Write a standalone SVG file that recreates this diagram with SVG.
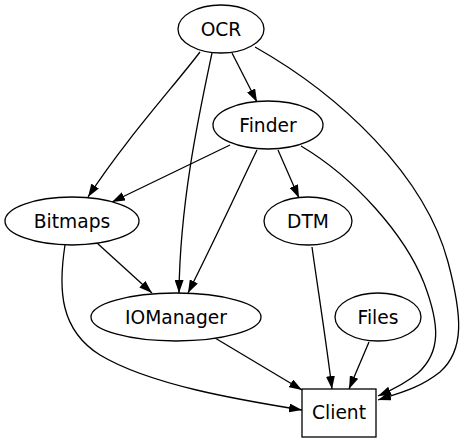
<svg xmlns="http://www.w3.org/2000/svg" width="465" height="443" viewBox="0 0 465 443">
<style>
.n ellipse, .n rect { fill: #fff; stroke: #000; stroke-width: 1.3; }
.n text { font-family: "DejaVu Sans", sans-serif; font-size: 18.67px; text-anchor: middle; fill: #000; }
.e path { fill: none; stroke: #000; stroke-width: 1.3; marker-end: url(#ah); }
</style>
<defs>
<marker id="ah" viewBox="0 0 13 9" refX="13" refY="4.5" markerWidth="13" markerHeight="9" markerUnits="userSpaceOnUse" orient="auto">
<path d="M0,0 L13,4.5 L0,9 z" fill="#000" stroke="none"/>
</marker>
</defs>
<rect width="465" height="443" fill="#fff"/>
<g id="edges" class="e">
<path d="M200,52 C175,85 125,140 88,197"/>
<path d="M212,53 C200,110 180,200 179,293"/>
<path d="M232,53 L257,102"/>
<path d="M255,47 C340,95 425,175 448,262 C462,315 465,350 440,372 C420,388 400,393 378,400"/>
<path d="M230,145 L112,202"/>
<path d="M257,150 C240,185 222,225 188,293"/>
<path d="M278,150 L299,198"/>
<path d="M301,146 C355,178 405,235 424,283 C440,325 441,352 418,373 C405,384 392,390 378,396"/>
<path d="M97,243 L152,293"/>
<path d="M65,245 C58,290 60,330 100,355 C150,385 240,400 302,410"/>
<path d="M215,338 L302,390"/>
<path d="M312,247 C318,290 326,340 332,389"/>
<path d="M369,342 L349,389"/>
</g>
<g id="OCR" class="n"><ellipse cx="221" cy="29" rx="43" ry="24"/><text x="221" y="35.5">OCR</text></g>
<g id="Finder" class="n"><ellipse cx="268" cy="125" rx="55" ry="24"/><text x="268" y="131.5">Finder</text></g>
<g id="Bitmaps" class="n"><ellipse cx="72" cy="221" rx="67" ry="24"/><text x="72" y="227.5">Bitmaps</text></g>
<g id="DTM" class="n"><ellipse cx="308" cy="221" rx="44" ry="24"/><text x="308" y="227.5">DTM</text></g>
<g id="IOManager" class="n"><ellipse cx="176" cy="317" rx="85" ry="24"/><text x="176" y="323.5">IOManager</text></g>
<g id="Files" class="n"><ellipse cx="378" cy="317" rx="43" ry="24"/><text x="378" y="323.5">Files</text></g>
<g id="Client" class="n"><rect x="302" y="389" width="74" height="48"/><text x="339" y="418.5">Client</text></g>
</svg>
